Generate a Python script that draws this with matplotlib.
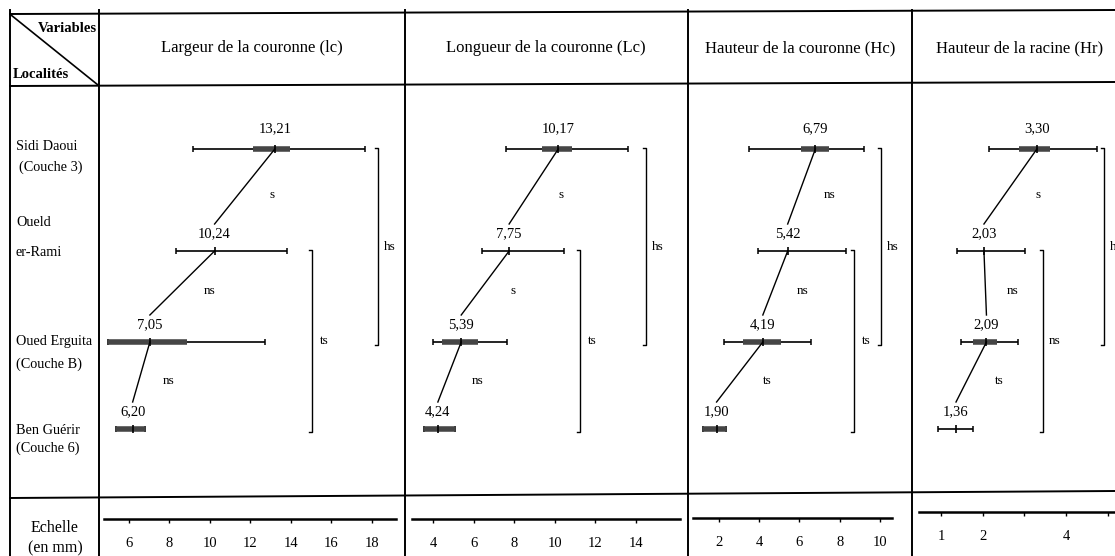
import numpy as np
import matplotlib.pyplot as plt

plt.rcParams['font.family'] = ['Liberation Serif', 'DejaVu Serif']

# ---- données (en mm) ----
variables = ["Largeur de la couronne (lc)", "Longueur de la couronne (Lc)",
             "Hauteur de la couronne (Hc)", "Hauteur de la racine (Hr)"]
loc_l1 = ["Sidi Daoui", "Oueld", "Oued Erguita", "Ben Guérir"]
loc_l2 = ["(Couche 3)", "er-Rami", "(Couche B)", "(Couche 6)"]

lc_mean = [13.21, 10.24, 7.05, 6.20]
lc_min = [9.18, 8.34, 4.98, 5.38]
lc_max = [17.66, 13.81, 12.73, 6.81]
lc_blo = [12.13, None, 4.98, 5.38]
lc_bhi = [13.96, None, 8.88, 6.81]

Lc_mean = [10.17, 7.75, 5.39, 4.24]
Lc_min = [7.60, 6.41, 4.00, 3.56]
Lc_max = [13.61, 10.45, 7.65, 5.08]
Lc_blo = [9.37, None, 4.44, 3.56]
Lc_bhi = [10.85, None, 6.22, 5.08]

Hc_mean = [6.79, 5.42, 4.19, 1.90]
Hc_min = [3.50, 3.95, 2.27, 1.23]
Hc_max = [9.19, 8.31, 6.57, 2.36]
Hc_blo = [6.08, None, 3.20, 1.23]
Hc_bhi = [7.46, None, 5.10, 2.36]

Hr_mean = [3.30, 2.03, 2.09, 1.36]
Hr_min = [2.15, 1.38, 1.48, 0.93]
Hr_max = [4.74, 3.01, 2.85, 1.77]
Hr_blo = [2.87, None, 1.77, None]
Hr_bhi = [3.61, None, 2.34, None]

# tests entre localités voisines, puis 1-3 et 2-4
sig_adj = [["s", "ns", "ns"], ["s", "s", "ns"], ["ns", "ns", "ts"], ["s", "ns", "ts"]]
sig_13 = ["hs", "hs", "hs", "hs"]
sig_24 = ["ts", "ts", "ts", "ns"]

scale_ticks = [[6, 8, 10, 12, 14, 16, 18], [4, 6, 8, 10, 12, 14], [2, 4, 6, 8, 10], [1, 2, 3, 4, 5]]
scale_labels = [["6", "8", "10", "12", "14", "16", "18"], ["4", "6", "8", "10", "12", "14"],
                ["2", "4", "6", "8", "10"], ["1", "2", "", "4", ""]]

means = [lc_mean, Lc_mean, Hc_mean, Hr_mean]
mins = [lc_min, Lc_min, Hc_min, Hr_min]
maxs = [lc_max, Lc_max, Hc_max, Hr_max]
blos = [lc_blo, Lc_blo, Hc_blo, Hr_blo]
bhis = [lc_bhi, Lc_bhi, Hc_bhi, Hr_bhi]

# ---- mise en page (pixels) ----
W, H = 1115, 556
rows = [149, 251, 342, 429]
panel_x = [(99, 405), (405, 688), (688, 912), (912, 1130)]
# (mm de référence, pixel, pixels par mm)
cal = [(6, 128.6, 20.28), (4, 433, 20.3), (2, 718.6, 20.2), (1, 941, 41.7)]
scale_x = [(104, 396), (412, 680), (693, 892), (919, 1116)]
scale_y = [519, 519, 518, 512]
br13_x = [378, 646, 881, 1104]
br24_x = [312, 580, 854, 1043]
title_x = [252, 546, 800, 1020]

fig = plt.figure(figsize=(W / 100, H / 100), dpi=100)
base = fig.add_axes([0, 0, 1, 1])
base.set_xlim(0, W)
base.set_ylim(H, 0)
base.axis('off')


def add_px_axes(x0, x1, y0, y1):
    return fig.add_axes([x0 / W, 1 - y1 / H, (x1 - x0) / W, (y1 - y0) / H])


def to_mm(i, px):
    m0, p0, k = cal[i]
    return m0 + (px - p0) / k


# tableau
lw = 1.4
base.plot([10, W], [14, 10], color='k', lw=lw)
base.plot([10, W], [86, 82], color='k', lw=lw)
base.plot([10, W], [498, 491], color='k', lw=lw)
for x in [10, 99, 405, 688, 912]:
    base.plot([x, x], [10, H], color='k', lw=lw)
base.plot([11, 98], [15, 85], color='k', lw=1.2)
base.text(97, 28, "Variables", ha='right', va='center', fontsize=10.5, fontweight='bold')
base.text(13, 75, "Localités", ha='left', va='center', fontsize=10.5, fontweight='bold')

label_y = [(147, 167), (223, 253), (342, 364), (430, 448)]
for i in range(4):
    base.text(16, label_y[i][0], loc_l1[i], ha='left', va='center', fontsize=10.3)
    base.text(19 if i == 0 else 16, label_y[i][1], loc_l2[i], ha='left', va='center', fontsize=10.3)
base.text(55, 528, "Echelle", ha='center', va='center', fontsize=11.5)
base.text(55, 548, "(en mm)", ha='center', va='center', fontsize=11.5)

for i in range(4):
    base.text(title_x[i], 48, variables[i], ha='center', va='center', fontsize=12)

    x0, x1 = panel_x[i]
    ax = add_px_axes(x0, x1, 88, 495)
    ax.set_xlim(to_mm(i, x0), to_mm(i, x1))
    ax.set_ylim(495, 88)
    ax.axis('off')

    m, lo, hi, blo, bhi = means[i], mins[i], maxs[i], blos[i], bhis[i]
    for r in range(4):
        y = rows[r]
        ax.plot([lo[r], hi[r]], [y, y], color='k', lw=1.2, solid_capstyle='butt')
        ax.plot([lo[r], hi[r]], [y, y], ls='none', marker='|', ms=5, mew=1.1, color='k')
        if blo[r] is not None:
            ax.plot([blo[r], bhi[r]], [y, y], color='#454545', lw=4, solid_capstyle='butt')
        ax.plot([m[r]], [y], ls='none', marker='|', ms=6, mew=1.2, color='k')
        dy = 20 if r == 0 else 17
        ax.text(m[r], y - dy, "{:.2f}".format(m[r]).replace('.', ','),
                ha='center', va='center', fontsize=10.5)
        if r < 3:
            y2 = rows[r + 1] - 27
            ax.plot([m[r], m[r + 1]], [y, y2], color='k', lw=1.0)
            xm = (m[r] + m[r + 1]) / 2
            ym = (rows[r] + rows[r + 1]) / 2 - 5
            ax.annotate(sig_adj[i][r], xy=(xm, ym), xytext=(20, 0), textcoords='offset points',
                        ha='center', va='center', fontsize=9.5)

    # crochets
    for bx, (ra, rb), lab in [(br13_x[i], (0, 2), sig_13[i]), (br24_x[i], (1, 3), sig_24[i])]:
        ya, yb = rows[ra] - 1, rows[rb] + 3
        base.plot([bx - 3, bx, bx, bx - 3], [ya, ya, yb, yb], color='k', lw=1.0)
        base.text(bx + 12, (ya + yb) / 2, lab, ha='center', va='center', fontsize=9.5)

    # échelle
    sx0, sx1 = scale_x[i]
    sy = scale_y[i]
    sax = add_px_axes(sx0, sx1, sy - 2, sy)
    sax.set_xlim(to_mm(i, sx0), to_mm(i, sx1))
    for s in ['top', 'left', 'right']:
        sax.spines[s].set_visible(False)
    sax.spines['bottom'].set_linewidth(1.8)
    sax.set_yticks([])
    sax.set_xticks(scale_ticks[i])
    sax.set_xticklabels(scale_labels[i], fontsize=10.5)
    sax.tick_params(axis='x', direction='out', length=3, width=1, pad=10)
    sax.patch.set_alpha(0)

fig.savefig('out.png', dpi=100)
